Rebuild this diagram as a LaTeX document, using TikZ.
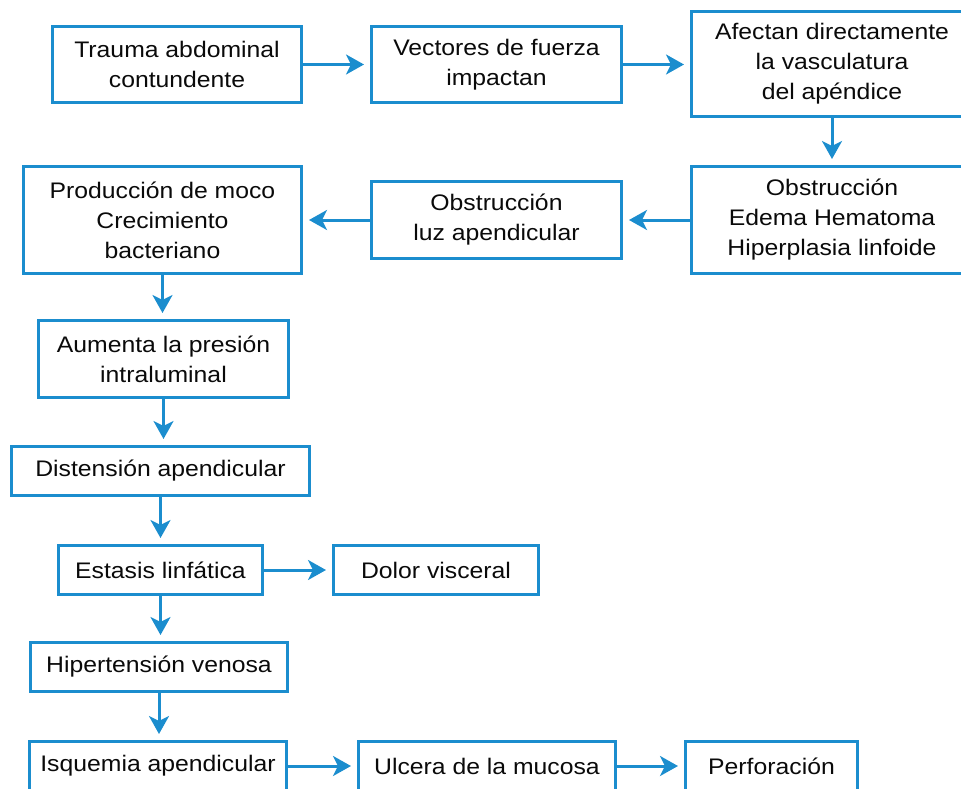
\documentclass[tikz,border=0pt]{standalone}
\usepackage{fontspec}
\setmainfont{Liberation Sans}[FakeStretch=1.1]
\usetikzlibrary{arrows.meta,calc}
\definecolor{flowblue}{RGB}{27,141,206}
\definecolor{txt}{RGB}{10,10,10}
\tikzset{
  fbox/.style={draw=flowblue, line width=3pt, rectangle, inner sep=0pt, align=center,
    text=txt, font=\fontsize{22.5}{30}\selectfont},
  flow/.style={draw=flowblue, line width=3pt,
    -{Stealth[length=18pt,width=20pt,inset=5pt]}, shorten >=6pt}
}
\begin{document}
\begin{tikzpicture}[x=1pt,y=-1pt]
\useasboundingbox (0,0) rectangle (961,789);
\clip (0,0) rectangle (961,789);
\node[fbox, minimum width=249, minimum height=76] (b1) at (177,64.5) {Trauma abdominal\\contundente};
\node[fbox, minimum width=250, minimum height=76] (b2) at (496.5,64.5) {Vectores de fuerza\\impactan};
\node[fbox, minimum width=281, minimum height=105] (b3) at (832,64) {Afectan directamente\\la vasculatura\\del apéndice};
\node[fbox, minimum width=281, minimum height=107] (b4) at (832,220) {Obstrucción\\Edema Hematoma\\Hiperplasia linfoide};
\node[fbox, minimum width=250, minimum height=77] (b5) at (496.5,220) {Obstrucción\\luz apendicular};
\node[fbox, minimum width=278, minimum height=107] (b6) at (162.5,220) {Producción de moco\\Crecimiento\\bacteriano};
\node[fbox, minimum width=250, minimum height=77] (b7) at (163.5,359) {Aumenta la presión\\intraluminal};
\node[fbox, minimum width=298, minimum height=49] (b8) at (160.5,471) {Distensión apendicular};
\node[fbox, minimum width=204, minimum height=49] (b9) at (160.5,570) {Estasis linfática};
\node[fbox, minimum width=205, minimum height=49] (b10) at (436,570) {Dolor visceral};
\node[fbox, minimum width=257, minimum height=49] (b11) at (159,667) {Hipertensión venosa};
\node[fbox, minimum width=257, minimum height=49] (b12) at (158,766) {Isquemia apendicular};
\node[fbox, minimum width=257, minimum height=49] (b13) at (487,766) {Ulcera de la mucosa};
\node[fbox, minimum width=172, minimum height=49] (b14) at (771.5,766) {Perforación};

\draw[flow] (b1.east) -- (b2.west);
\draw[flow] (b2.east) -- (b3.west |- b2.east);
\draw[flow] (b3.south) -- (b4.north);
\draw[flow] (b4.west) -- (b5.east);
\draw[flow] (b5.west) -- (b6.east);
\draw[flow] (b6.south) -- (b6.south |- b7.north);
\draw[flow] (b7.south) -- (b7.south |- b8.north);
\draw[flow] (b8.south) -- (b8.south |- b9.north);
\draw[flow] (b9.east) -- (b10.west);
\draw[flow] (b9.south) -- (b9.south |- b11.north);
\draw[flow] (b11.south) -- (b11.south |- b12.north);
\draw[flow] (b12.east) -- (b13.west);
\draw[flow] (b13.east) -- (b14.west);
\end{tikzpicture}
\end{document}
